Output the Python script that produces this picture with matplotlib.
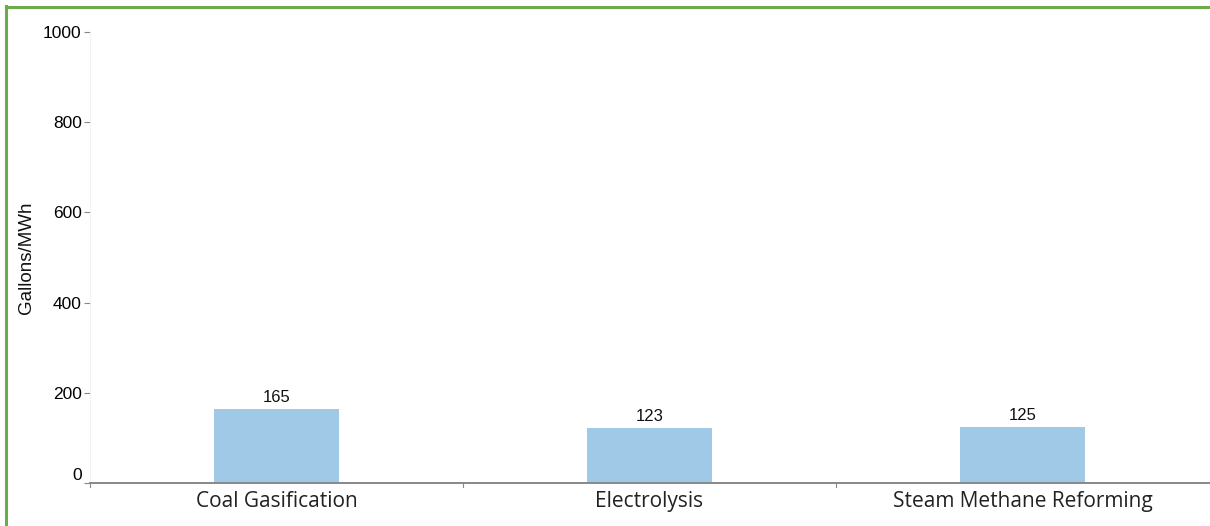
import matplotlib.pyplot as plt
from matplotlib.lines import Line2D

categories = ["Coal Gasification", "Electrolysis", "Steam Methane Reforming"]
gallons = [165, 123, 125]
yticks = [0, 200, 400, 600, 800, 1000]

W, H = 1210, 526
fig = plt.figure(figsize=(W / 100, H / 100), dpi=100)
ax = fig.add_axes([90 / W, (H - 483) / H, (1209 - 90) / W, (483 - 32) / H])

x = list(range(len(categories)))
bars = ax.bar(x, gallons, width=0.335, color="#a0c9e8", zorder=2)
for b, v in zip(bars, gallons):
    ax.text(b.get_x() + b.get_width() / 2, v + 8, str(v), ha="center", va="bottom",
            fontsize=12, family="Liberation Sans", color="#111111")

ax.set_xlim(-0.5, len(categories) - 0.5)
ax.set_ylim(0, 1000)
ax.set_yticks(yticks)
ax.set_yticklabels([str(t) for t in yticks], family="Liberation Sans", fontsize=12.5)
ax.set_xticks(x)
ax.set_xticklabels(categories, family="Open Sans", fontsize=15, color="#222222")
ax.tick_params(axis="x", length=0, pad=6)
ax.tick_params(axis="y", length=4, width=0.8, color="#888888", pad=2)
ax.get_yticklabels()[0].set_va("bottom")

# boundaries between the category bands
for s in [-0.5, 0.5, 1.5]:
    ax.plot([s, s], [0, -8], color="#888888", lw=0.8, clip_on=False)

for side in ["top", "right"]:
    ax.spines[side].set_visible(False)
ax.spines["left"].set_color("#f0f0f0")
ax.spines["left"].set_linewidth(0.6)
ax.spines["bottom"].set_color("#888888")
ax.spines["bottom"].set_linewidth(1.4)

fig.text(27 / W, 1 - 258 / H, "Gallons/MWh", rotation=90, ha="center", va="center",
         family="Liberation Sans", fontsize=13.5, color="#111111")

# green frame on the left and top edges
fig.add_artist(Line2D([6 / W, 6 / W], [0, 1 - 6 / H], transform=fig.transFigure,
                      color="#6aab4c", lw=2.2))
fig.add_artist(Line2D([6 / W, 1], [1 - 7 / H, 1 - 7 / H], transform=fig.transFigure,
                      color="#6aab4c", lw=2.2))

fig.savefig("out.png", dpi=100)
